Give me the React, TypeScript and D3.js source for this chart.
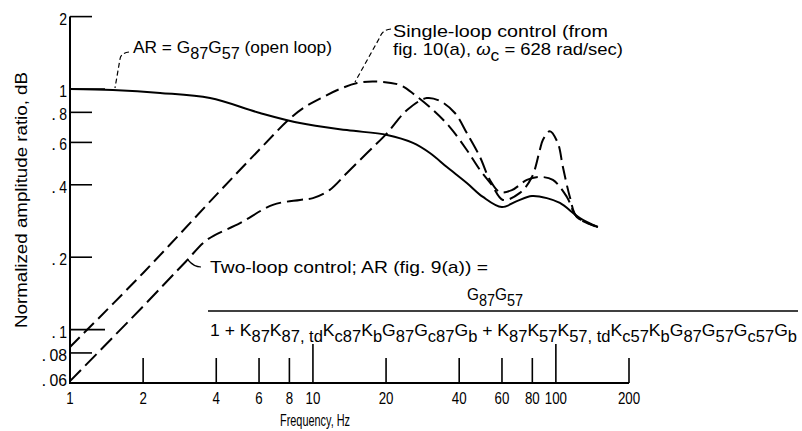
import React from "react";
import * as d3 from "d3";

const W = 802;
const H = 431;
const FONT = "'Liberation Sans', Arimo, Arial, sans-serif";

// Open loop: AR = G87 G57
const freqOpen = [1, 1.5, 2.35, 3.77, 6.05, 8.84, 13.8, 20.2, 25.8, 30.3, 35.6, 43.0, 50.1, 59.9, 69.1, 79.7, 91.8, 103.9, 125.6, 148.9];
const ampOpen = [1.0, 0.99, 0.963, 0.917, 0.795, 0.722, 0.675, 0.644, 0.597, 0.542, 0.474, 0.407, 0.356, 0.323, 0.342, 0.359, 0.352, 0.336, 0.291, 0.267];

// Single-loop control (fig. 10(a))
const freqSingle = [1, 2, 4, 6, 8, 9.27, 11.0, 12.9, 15.2, 18.0, 22.8, 26.3, 31.2, 36.6, 43.0, 48.7, 54.5, 60.5, 71.1, 79.7, 85.9, 88.4, 94.4, 101.9, 106.9, 114.2, 122.0, 148.9];
const ampSingle = [0.0847, 0.172, 0.363, 0.558, 0.75, 0.842, 0.926, 1.0, 1.059, 1.075, 1.039, 0.944, 0.818, 0.695, 0.558, 0.461, 0.399, 0.346, 0.37, 0.431, 0.558, 0.614, 0.668, 0.596, 0.474, 0.356, 0.294, 0.267];

// Two-loop control (fig. 9(a))
const freqTwo = [1, 2, 3, 3.66, 5.01, 6.84, 8.84, 10.0, 11.7, 13.8, 16.7, 20.2, 24.4, 29.4, 33.3, 38.4, 43.0, 48.7, 53.5, 58.8, 65.9, 76.0, 85.9, 97.2, 111, 122, 148.9];
const ampTwo = [0.0611, 0.125, 0.192, 0.236, 0.277, 0.33, 0.346, 0.352, 0.38, 0.448, 0.542, 0.656, 0.818, 0.917, 0.892, 0.795, 0.656, 0.522, 0.419, 0.373, 0.38, 0.419, 0.431, 0.419, 0.356, 0.294, 0.267];

const xTicks = [1, 2, 4, 6, 8, 10, 20, 40, 60, 80, 100, 200];
const xTickLabels = ["1", "2", "4", "6", "8", "10", "20", "40", "60", "80", "100", "200"];
const xMajor = [10, 100];
const yTicks = [0.06, 0.08, 0.1, 0.2, 0.4, 0.6, 0.8, 1, 2];
const yTickLabels = [".06", ".08", ".1", ".2", ".4", ".6", ".8", "1", "2"];
const yMajor = [0.1, 1];

type Part = [string, boolean, boolean?];

function Rich({ x, y, parts, len, size = 16, sub = 6 }: { x: number; y: number; parts: Part[]; len: number; size?: number; sub?: number }) {
  let cur = 0;
  return (
    <text x={x} y={y} fontFamily={FONT} fontSize={size} textLength={len} lengthAdjust="spacingAndGlyphs" fill="#000">
      {parts.map(([t, isSub, italic], i) => {
        const target = isSub ? sub : 0;
        const dy = target - cur;
        cur = target;
        return (
          <tspan key={i} dy={dy} fontSize={isSub ? size - 1 : size} fontStyle={italic ? "italic" : "normal"}>
            {t}
          </tspan>
        );
      })}
    </text>
  );
}

export default function App() {
  const x = d3.scaleLog().domain([1, 200]).range([70, 629]);
  const y = d3.scaleLog().domain([0.06, 2]).range([383, 16.6]);
  const line = d3
    .line<[number, number]>()
    .x((d) => x(d[0]))
    .y((d) => y(d[1]))
    .curve(d3.curveCatmullRom.alpha(0.5));
  const zip = (f: number[], a: number[]) => f.map((v, i) => [v, a[i]] as [number, number]);

  const denom: Part[] = [
    ["1 + K", false], ["87", true], ["K", false], ["87, td", true], ["K", false], ["c87", true], ["K", false], ["b", true],
    ["G", false], ["87", true], ["G", false], ["c87", true], ["G", false], ["b", true],
    [" + K", false], ["87", true], ["K", false], ["57", true], ["K", false], ["57, td", true], ["K", false], ["c57", true], ["K", false], ["b", true],
    ["G", false], ["87", true], ["G", false], ["57", true], ["G", false], ["c57", true], ["G", false], ["b", true],
  ];

  const digitW = 7.4;

  return (
    <svg width={W} height={H} style={{ position: "absolute", left: 0, top: 0, background: "#fff" }}>
      <rect width={W} height={H} fill="#fff" />

      {/* axes */}
      <line x1={70} y1={y(2)} x2={70} y2={384} stroke="#000" strokeWidth={2} />
      <line x1={69} y1={383} x2={x(200)} y2={383} stroke="#000" strokeWidth={2} />

      {xTicks.filter((t) => t > 1).map((t) => (
        <line key={t} x1={x(t)} x2={x(t)} y1={383} y2={xMajor.includes(t) ? 344 : 358} stroke="#000" strokeWidth={1.6} />
      ))}
      {yTicks.map((t) => (
        <line key={t} x1={70} x2={yMajor.includes(t) ? 105 : 92} y1={y(t)} y2={y(t)} stroke="#000" strokeWidth={1.6} />
      ))}

      {xTicks.map((t, i) => {
        const s = xTickLabels[i];
        const w = s.length * digitW;
        return (
          <text key={t} x={x(t) - w / 2} y={404} fontFamily={FONT} fontSize={17} textLength={w} lengthAdjust="spacingAndGlyphs" fill="#000">
            {s}
          </text>
        );
      })}
      {yTicks.map((t, i) => {
        const s = yTickLabels[i];
        const by = Math.min(y(t) + 8, 386);
        const digits = s.startsWith(".") ? s.slice(1) : s;
        const w = digits.length * (digits.length > 1 ? 8.8 : 7.8);
        return (
          <g key={t}>
            {s.startsWith(".") && (
              <text x={67 - w - 8} y={by} fontFamily={FONT} fontSize={17} fill="#000">
                .
              </text>
            )}
            <text x={67 - w} y={by} fontFamily={FONT} fontSize={17} textLength={w} lengthAdjust="spacingAndGlyphs" fill="#000">
              {digits}
            </text>
          </g>
        );
      })}

      <text x={280} y={426} fontFamily={FONT} fontSize={17} textLength={70} lengthAdjust="spacingAndGlyphs" fill="#000">
        Frequency, Hz
      </text>
      <text
        transform="translate(27,328) rotate(-90)"
        fontFamily={FONT}
        fontSize={16}
        textLength={256}
        lengthAdjust="spacingAndGlyphs"
        fill="#000"
      >
        Normalized amplitude ratio, dB
      </text>

      {/* curves */}
      <path d={line(zip(freqOpen, ampOpen)) || ""} fill="none" stroke="#000" strokeWidth={2} />
      <path d={line(zip(freqSingle, ampSingle)) || ""} fill="none" stroke="#000" strokeWidth={2} strokeDasharray="14,6" />
      <path d={line(zip(freqTwo, ampTwo)) || ""} fill="none" stroke="#000" strokeWidth={2} strokeDasharray="16,6" />

      {/* leaders */}
      <path d="M129,52 Q121,53 120,59 L115,88" fill="none" stroke="#000" strokeWidth={1.2} strokeDasharray="5,3" />
      <path d="M391,29 Q382,30 380,37 L355,82" fill="none" stroke="#000" strokeWidth={1.2} strokeDasharray="5,3" />
      <path d="M188,260 Q194,267 201,267" fill="none" stroke="#000" strokeWidth={1.2} />

      {/* annotations */}
      <Rich x={133} y={53} len={199} size={17} parts={[["AR = G", false], ["87", true], ["G", false], ["57", true], [" (open loop)", false]]} />
      <Rich x={393} y={37} len={215} size={17} parts={[["Single-loop control (from", false]]} />
      <Rich
        x={393}
        y={55}
        len={230}
        size={17}
        parts={[["fig. 10(a), ", false], ["ω", false, true], ["c", true], [" = 628 rad/sec)", false]]}
      />
      <Rich x={210} y={273} len={278} size={17} parts={[["Two-loop control; AR (fig. 9(a)) =", false]]} />
      <Rich x={467} y={300} len={56} size={17} parts={[["G", false], ["87", true], ["G", false], ["57", true]]} />
      <line x1={208} x2={798} y1={311} y2={311} stroke="#000" strokeWidth={1.5} />
      <Rich x={210} y={336} len={587} size={17} parts={denom} />
    </svg>
  );
}
